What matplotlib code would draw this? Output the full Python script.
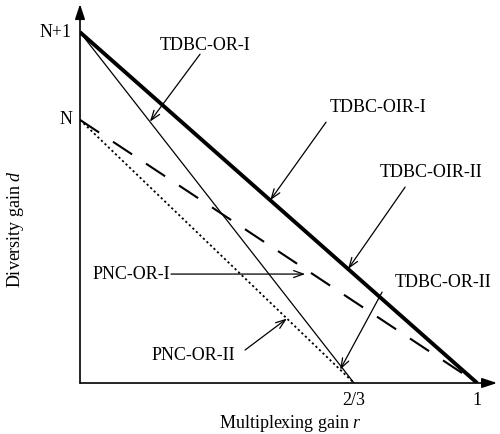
import matplotlib
matplotlib.use("Agg")
import matplotlib.pyplot as plt

plt.rcParams['font.family'] = ['Liberation Serif', 'DejaVu Serif']
plt.rcParams['mathtext.fontset'] = 'custom'
plt.rcParams['mathtext.rm'] = 'Liberation Serif'
plt.rcParams['mathtext.it'] = 'Liberation Serif:italic'

# Data
N = 3
r_mid = 0.69          # position of "2/3" on the r axis
r_full = 1.0
xtick_vals = [r_mid, r_full]
xtick_labels = ['2/3', '1']
ytick_vals = [N, N + 1]
ytick_labels = ['N', 'N+1']

# curves: (r-intercept, d-intercept)
tdbc_oir_I = ([0, r_full], [N + 1, 0])   # thick
tdbc_or_I = ([0, r_mid], [N + 1, 0])     # thin
tdbc_oir_II = ([0, r_full], [N, 0])      # dashed
pnc_or_II = ([0, r_mid], [N, 0])         # dotted

fig = plt.figure(figsize=(5.0, 4.34), dpi=100)
ax = fig.add_axes([0.16, 0.1175, 0.834, 0.873])
xmax, ymax = 1.05, 4.32
ax.set_xlim(0, xmax)
ax.set_ylim(0, ymax)
for s in ax.spines.values():
    s.set_visible(False)
ax.set_xticks([])
ax.set_yticks([])

# axes with arrows
ax.annotate('', xy=(xmax, 0), xytext=(0, 0),
            arrowprops=dict(arrowstyle='-|>,head_length=0.9,head_width=0.3', color='black', lw=1.2,
                            shrinkA=0, shrinkB=0), annotation_clip=False)
ax.annotate('', xy=(0, ymax), xytext=(0, 0),
            arrowprops=dict(arrowstyle='-|>,head_length=0.9,head_width=0.3', color='black', lw=1.2,
                            shrinkA=0, shrinkB=0), annotation_clip=False)

ax.plot(*tdbc_oir_I, color='black', lw=2.8, solid_capstyle='butt')
ax.plot(*tdbc_or_I, color='black', lw=0.9)
ax.plot(*tdbc_oir_II, color='black', lw=1.5, dashes=(11, 8))
ax.plot(*pnc_or_II, color='black', lw=1.3, dashes=(1.2, 1.5))

fs = 13
for v, lab in zip(xtick_vals, xtick_labels):
    ax.text(v, -0.2, lab, ha='center', va='center', fontsize=fs)
for v, lab in zip(ytick_vals, ytick_labels):
    ax.text(-0.02, v, lab, ha='right', va='center', fontsize=fs)

ax.text(0.53, -0.46, 'Multiplexing gain $\\mathit{r}$', ha='center', va='center', fontsize=fs)
ax.text(-0.163, 1.76, 'Diversity gain $\\mathit{d}$', ha='center', va='center', fontsize=fs,
        rotation=90)


def px2d(px, py):
    return ((px - 80) / 397.0, (383 - py) / 87.75)


def on_line(line, r):
    (x0, x1), (y0, y1) = line
    return (r, y0 + (y1 - y0) * (r - x0) / (x1 - x0))


arrow = dict(arrowstyle='->,head_length=0.7,head_width=0.25', color='black', lw=0.9,
             shrinkA=0, shrinkB=0)

annots = [
    ('TDBC-OR-I', (205, 45), (200, 54), tdbc_or_I, 0.176),
    ('TDBC-OIR-I', (378, 107), (326, 122), tdbc_oir_I, 0.479),
    ('TDBC-OIR-II', (431, 172), (405, 187), tdbc_oir_I, 0.675),
    ('TDBC-OR-II', (443, 282), (382, 292), pnc_or_II, 0.655),
    ('PNC-OR-I', (131, 274), (171, 274), tdbc_oir_II, 0.567),
    ('PNC-OR-II', (193, 355), (245, 350), pnc_or_II, 0.521),
]
for label, tpos, start, line, r in annots:
    ax.text(*px2d(*tpos), label, ha='center', va='center', fontsize=fs)
    tgt = on_line(line, r)
    if label == 'PNC-OR-I':
        tgt = (tgt[0], px2d(0, 274)[1])
    ax.annotate('', xy=tgt, xytext=px2d(*start), arrowprops=arrow, annotation_clip=False)

fig.savefig('out.png', dpi=100)
